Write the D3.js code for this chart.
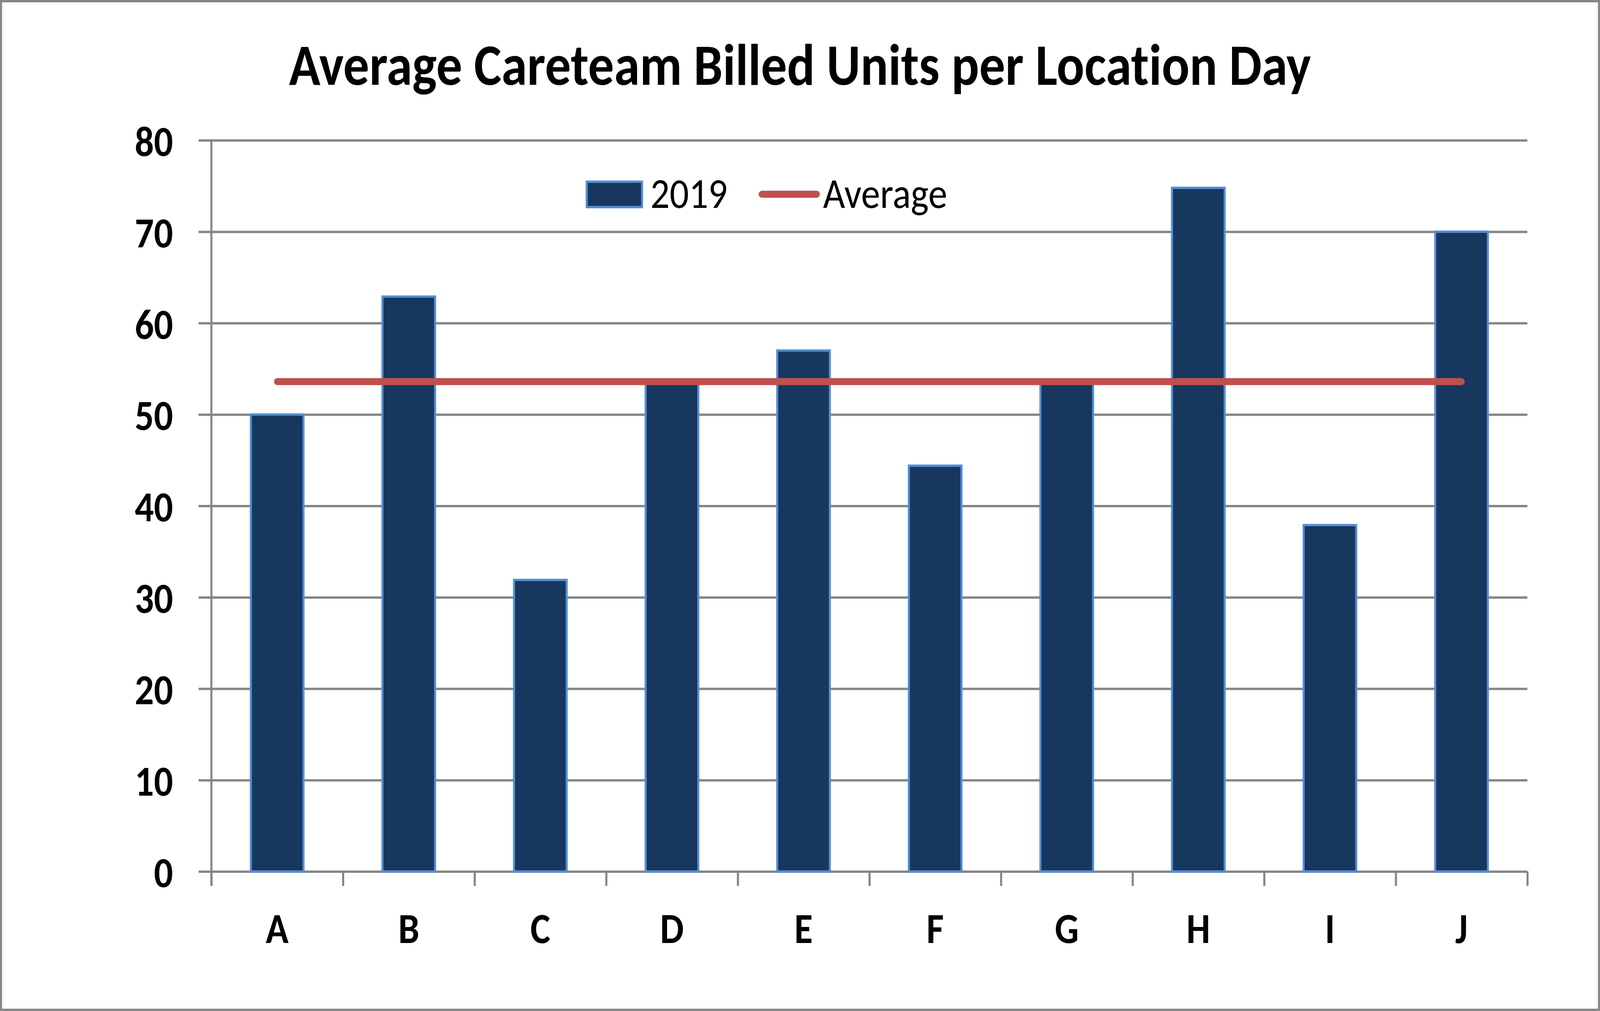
<!DOCTYPE html>
<html>
<head>
<meta charset="utf-8">
<script src="https://cdn.jsdelivr.net/npm/d3@7"></script>
<style>
    html, body { margin: 0; padding: 0; background: #fff; overflow: hidden; }
    main { width: 100vw; height: 100vh; }
    svg { display: block; width: 100%; height: 100%; }
    text { font-family: Carlito, Calibri, Lato, sans-serif; fill: #000; font-variant-ligatures: none; }
</style>
</head>
<body>
<main></main>
<script>
// Data
const categories = ['A', 'B', 'C', 'D', 'E', 'F', 'G', 'H', 'I', 'J']
const values2019 = [50, 62.9, 31.9, 53.6, 57, 44.4, 53.5, 74.8, 37.9, 70]
const yTicks = [0, 10, 20, 30, 40, 50, 60, 70, 80]
const seriesNames = ['2019', 'Average']
const title = 'Average Careteam Billed Units per Location Day'

function GeneratePlot() {
    // Configuration
    const total_width = 4625
    const total_height = 2587
    const plot = { left: 611, right: 4415, top: 359, bottom: 2230 }
    const tick = 37
    const gridColor = '#868686'
    const barFill = '#17375E'
    const barStroke = '#558ED5'
    const avgColor = '#C0504D'

    const svg = d3.select('main')
        .append('svg')
        .attr('viewBox', `0 0 ${total_width} ${total_height}`)
        .attr('preserveAspectRatio', 'none')

    // Border
    svg.append('rect')
        .attr('x', 3).attr('y', 3)
        .attr('width', total_width - 6)
        .attr('height', total_height - 6)
        .attr('fill', '#fff')
        .attr('stroke', '#888')
        .attr('stroke-width', 6)

    // Scales
    const x = d3.scaleBand()
        .domain(categories)
        .range([plot.left, plot.right])
        .paddingInner(0.6)
        .paddingOuter(0.3)
    const xEdge = d3.scaleLinear()
        .domain([0, categories.length])
        .range([plot.left, plot.right])
    const y = d3.scaleLinear()
        .domain([0, 80])
        .range([plot.bottom, plot.top])

    // Grid lines
    svg.append('g')
        .attr('transform', `translate(${plot.right},0)`)
        .call(d3.axisLeft(y).tickValues(yTicks).tickSize(plot.right - plot.left + tick).tickFormat(''))
        .call(g => g.select('.domain').remove())
        .call(g => g.selectAll('line').attr('stroke', gridColor).attr('stroke-width', 6))

    // Y labels
    svg.append('g')
        .attr('transform', `translate(${plot.left - tick},0)`)
        .call(d3.axisLeft(y).tickValues(yTicks).tickSize(0).tickPadding(74))
        .call(g => g.select('.domain').remove())
        .call(g => g.selectAll('text')
            .attr('font-size', 109)
            .attr('font-weight', 'bold')
            .attr('dy', '0.36em')
            .attr('fill', '#000'))

    // X axis ticks at category edges
    svg.append('g')
        .attr('transform', `translate(0,${plot.bottom})`)
        .call(d3.axisBottom(xEdge).tickValues(d3.range(categories.length + 1)).tickSize(tick).tickFormat(''))
        .call(g => g.select('.domain').remove())
        .call(g => g.selectAll('line').attr('stroke', gridColor).attr('stroke-width', 6))

    // Y axis line
    svg.append('line')
        .attr('x1', plot.left).attr('x2', plot.left)
        .attr('y1', plot.top).attr('y2', plot.bottom + tick)
        .attr('stroke', gridColor)
        .attr('stroke-width', 6)

    // X labels
    svg.append('g')
        .attr('transform', `translate(0,${plot.bottom})`)
        .call(d3.axisBottom(x).tickSize(0))
        .call(g => g.select('.domain').remove())
        .call(g => g.selectAll('text')
            .attr('y', 183)
            .attr('dy', null)
            .attr('font-size', 109)
            .attr('font-weight', 'bold')
            .attr('fill', '#000'))

    // Bars
    svg.append('g')
        .selectAll('rect')
        .data(values2019)
        .join('rect')
        .attr('x', (d, i) => x(categories[i]))
        .attr('y', d => y(d))
        .attr('width', x.bandwidth())
        .attr('height', d => y(0) - y(d))
        .attr('fill', barFill)
        .attr('stroke', barStroke)
        .attr('stroke-width', 6)

    // Average line
    const avg = d3.mean(values2019)
    const line = d3.line()
        .x(d => x(d) + x.bandwidth() / 2)
        .y(() => y(avg))
    svg.append('path')
        .datum(categories)
        .attr('d', line)
        .attr('fill', 'none')
        .attr('stroke', avgColor)
        .attr('stroke-width', 18)
        .attr('stroke-linecap', 'round')

    // Legend
    const legend = svg.append('g')
    legend.append('rect')
        .attr('x', 1696).attr('y', 465)
        .attr('width', 160).attr('height', 65)
        .attr('fill', barFill)
        .attr('stroke', barStroke)
        .attr('stroke-width', 6)
    legend.append('text')
        .attr('x', 1880).attr('y', 532)
        .attr('font-size', 110)
        .text(seriesNames[0])
    legend.append('line')
        .attr('x1', 2202).attr('x2', 2361)
        .attr('y1', 497).attr('y2', 497)
        .attr('stroke', avgColor)
        .attr('stroke-width', 18)
        .attr('stroke-linecap', 'round')
    legend.append('text')
        .attr('x', 2379).attr('y', 532)
        .attr('font-size', 110)
        .text(seriesNames[1])

    // Title
    const t = svg.append('text')
        .attr('x', total_width / 2)
        .attr('y', 217)
        .attr('text-anchor', 'middle')
        .attr('font-size', 147)
        .attr('font-weight', 'bold')
        .text(title)
    const w = t.node().getComputedTextLength()
    t.attr('font-size', Math.min(152, 147 * 2954 / w))
}

GeneratePlot()
</script>
</body>
</html>
